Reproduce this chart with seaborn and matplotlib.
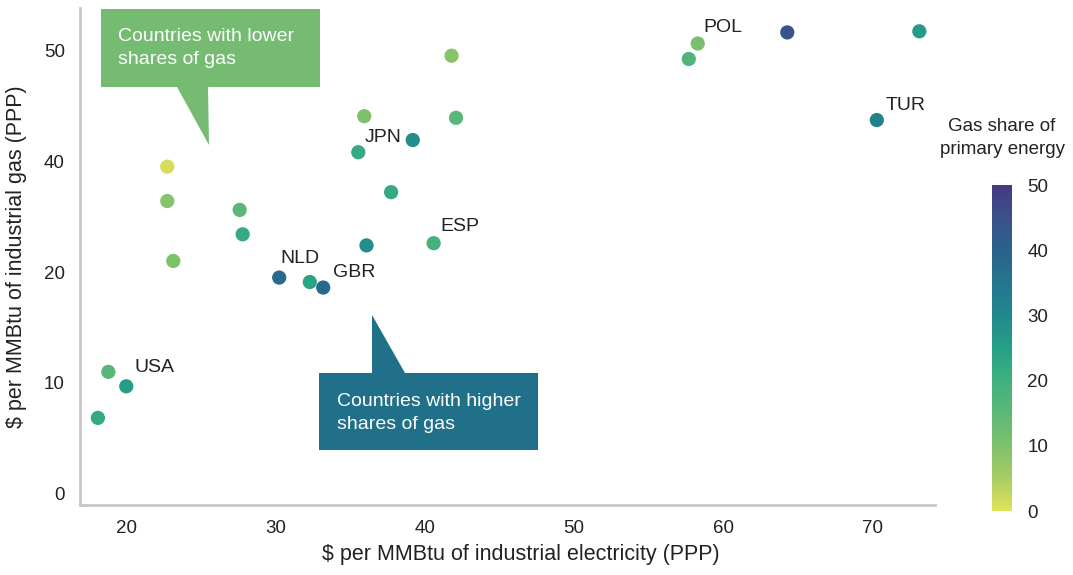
import matplotlib
matplotlib.use("Agg")
import matplotlib.pyplot as plt
from matplotlib.patches import Polygon
from matplotlib.colors import LinearSegmentedColormap
import seaborn as sns
import pandas as pd

# electricity price, gas price, gas share of primary energy
elec = [18.1, 18.8, 20.0, 22.75, 22.75, 23.15, 27.6, 27.8, 30.25, 32.3, 33.2, 35.55,
        35.95, 36.1, 37.75, 39.2, 40.6, 41.8, 42.1, 57.7, 58.3, 64.3, 70.3, 73.15]
gas = [6.85, 11.0, 9.7, 29.5, 26.4, 21.0, 25.6, 23.4, 19.5, 19.1, 18.6, 30.8,
       34.05, 22.4, 27.2, 31.9, 22.6, 39.5, 33.9, 39.2, 40.6, 41.6, 33.7, 41.7]
share = [22, 16, 26, 1, 9, 10, 16, 22, 38, 24, 38, 22,
         10, 29, 22, 29, 19, 9, 16, 17, 11, 44, 32, 26]
country = ['', 'USA', '', '', '', '', '', '', 'NLD', '', 'GBR', 'JPN',
           '', '', '', '', 'ESP', '', '', '', 'POL', '', 'TUR', '']

y_ticks = [0, 10, 20, 30, 40]
y_tick_labels = ['0', '10', '20', '40', '50']
x_ticks = [20, 30, 40, 50, 60, 70]
cbar_ticks = [0, 10, 20, 30, 40, 50]

df = pd.DataFrame({'elec': elec, 'gas': gas, 'share': share, 'country': country})

# muted viridis-like scale as in the original
cmap = LinearSegmentedColormap.from_list('gas', [
    '#e0e35a', '#a8cc63', '#7ec16b', '#5db878', '#3fb07e', '#26a087',
    '#20888d', '#24768e', '#2a628c', '#3b518b', '#443a80'])

sns.set_style('white')
plt.rcParams['font.family'] = ['Liberation Sans', 'DejaVu Sans']

W, H = 1073, 575
fig = plt.figure(figsize=(W / 100, H / 100), dpi=100)
ax = fig.add_axes([80 / W, 1 - 505 / H, 855 / W, 497 / H])

sns.scatterplot(data=df, x='elec', y='gas', hue='share', palette=cmap,
                hue_norm=(0, 50), s=105, linewidth=0, legend=False, ax=ax, zorder=3)

ax.set_xlim(16.9, 74.2)
ax.set_ylim(-1.0, 43.8)
ax.set_xticks(x_ticks)
ax.set_yticks(y_ticks)
ax.set_yticklabels(y_tick_labels)
ax.tick_params(length=0, labelsize=13.5, colors='#222222', pad=11)
ax.set_xlabel('$ per MMBtu of industrial electricity (PPP)', fontsize=15.5, color='#222222')
ax.set_ylabel('$ per MMBtu of industrial gas (PPP)', fontsize=15.5, color='#222222')
ax.xaxis.set_label_coords(0.515, -0.078)
ax.yaxis.set_label_coords(-0.062, 0.5)
for side in ['top', 'right']:
    ax.spines[side].set_visible(False)
for side in ['left', 'bottom']:
    ax.spines[side].set_color('#c8c8c8')
    ax.spines[side].set_linewidth(2)

offsets = {'USA': (26, 4), 'NLD': (1, 19), 'GBR': (10, 15), 'JPN': (6, 15),
           'ESP': (7, 17), 'POL': (6, 16), 'TUR': (9, 15)}
for _, r in df[df['country'] != ''].iterrows():
    ax.annotate(r['country'], (r['elec'], r['gas']), xytext=offsets[r['country']],
                textcoords='offset pixels', ha='left', va='center', fontsize=14, color='#222222')


def fp(x, y):
    return (x / W, 1 - y / H)


green = '#75bc72'
teal = '#1f7088'
fig.patches.append(Polygon([fp(101, 9), fp(320, 9), fp(320, 87), fp(208, 87), fp(209, 145),
                            fp(177, 87), fp(101, 87)], closed=True, transform=fig.transFigure,
                           facecolor=green, edgecolor='none', zorder=5))
fig.text(*fp(118, 48), 'Countries with lower\nshares of gas', color='white', fontsize=14,
         ha='left', va='center', linespacing=1.4, zorder=6)

fig.patches.append(Polygon([fp(319, 373), fp(372, 373), fp(372, 315), fp(405, 373), fp(538, 373),
                            fp(538, 450), fp(319, 450)], closed=True, transform=fig.transFigure,
                           facecolor=teal, edgecolor='none', zorder=5))
fig.text(*fp(337, 413), 'Countries with higher\nshares of gas', color='white', fontsize=14,
         ha='left', va='center', linespacing=1.4, zorder=6)

# colour bar
cax = fig.add_axes([992 / W, 1 - 511 / H, 20 / W, 326 / H])
sm = plt.cm.ScalarMappable(cmap=cmap, norm=plt.Normalize(0, 50))
cb = fig.colorbar(sm, cax=cax, ticks=cbar_ticks)
cb.outline.set_visible(False)
cb.ax.tick_params(length=0, labelsize=13.5, colors='#222222', pad=11)
fig.text(*fp(1002, 138), 'Gas share of\nprimary energy', ha='center', va='center',
         fontsize=13.5, color='#222222', linespacing=1.4)

fig.savefig('out.png', dpi=100)
